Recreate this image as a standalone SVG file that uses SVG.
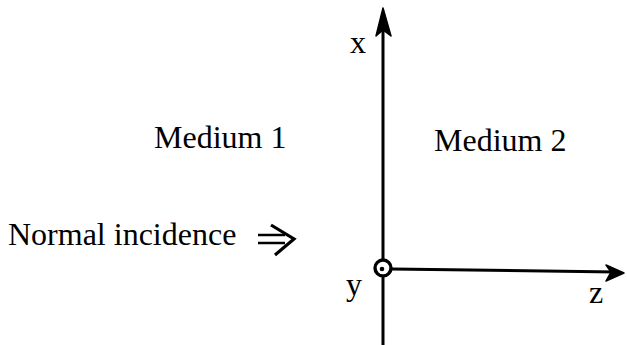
<svg xmlns="http://www.w3.org/2000/svg" width="627" height="345" viewBox="0 0 627 345">
<style>
.t{font-family:"Liberation Serif","Times New Roman",serif;font-size:32px;fill:#000}
.ax{stroke:#000;stroke-width:3;fill:none;stroke-linecap:round}
</style>
<rect width="627" height="345" fill="#fff"/>
<g id="connectors">
<line class="ax" x1="383" y1="14" x2="383" y2="259"/>
<line class="ax" x1="383" y1="278" x2="383" y2="345"/>
<path d="M383,8 L376,36 L383,30 L391,36 Z" fill="#000" stroke="#000" stroke-width="1.5" stroke-linejoin="round"/>
<line class="ax" x1="392" y1="269" x2="616" y2="272"/>
<path d="M624,273 L606,265 L611,272 L606,281 Z" fill="#000" stroke="#000" stroke-width="1.5" stroke-linejoin="round"/>
</g>
<g id="y-axis-out">
<circle cx="383" cy="268" r="8" fill="none" stroke="#000" stroke-width="3.4"/>
<circle cx="382" cy="269" r="2.3" fill="#000"/>
</g>
<g id="labels">
<text class="t" x="350" y="53">x</text>
<text class="t" x="346" y="295">y</text>
<text class="t" x="589" y="303">z</text>
<text class="t" x="154" y="148">Medium 1</text>
<text class="t" x="434" y="151">Medium 2</text>
<text class="t" x="8" y="245">Normal incidence</text>
</g>
<g id="incidence-arrow">
<line x1="258" y1="235" x2="285" y2="235" stroke="#000" stroke-width="2.5"/>
<line x1="258" y1="243" x2="285" y2="243" stroke="#000" stroke-width="2.5"/>
<polyline points="271,225 294,239 275,255" fill="none" stroke="#000" stroke-width="3.2" stroke-linejoin="miter"/>
</g>
</svg>
